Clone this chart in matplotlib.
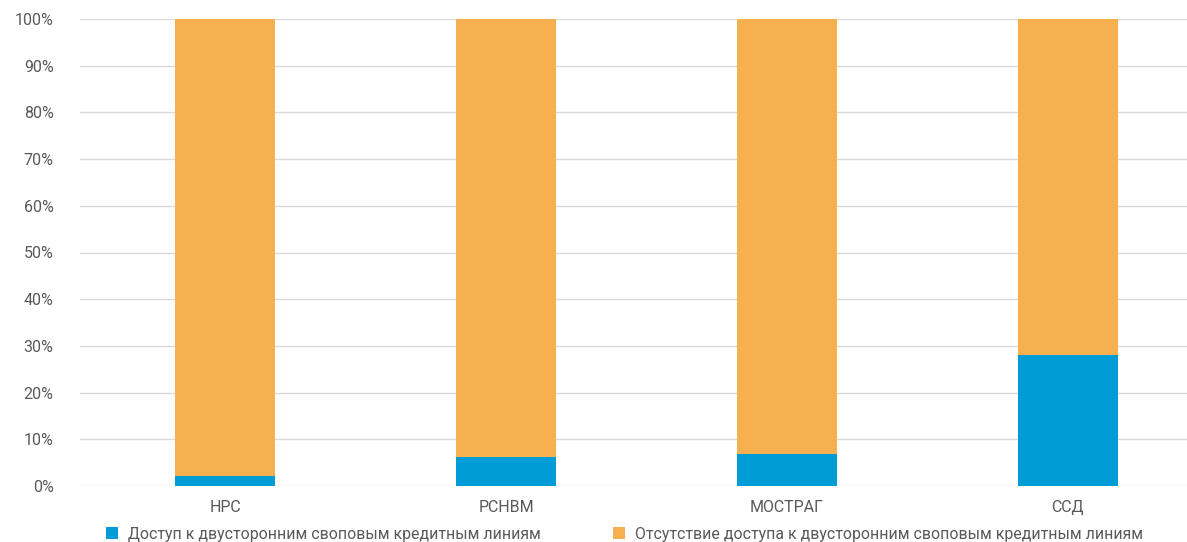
import matplotlib
matplotlib.use("Agg")
import matplotlib.pyplot as plt
import numpy as np

plt.rcParams['font.family'] = ['Roboto', 'DejaVu Sans']

categories = ["НРС", "РСНВМ", "МОСТРАГ", "ССД"]
access = [2.1, 6.2, 6.9, 28.0]
no_access = [100 - v for v in access]
series_names = ["Доступ к двусторонним своповым кредитным линиям",
                "Отсутствие доступа к двусторонним своповым кредитным линиям"]
yticks = [0, 10, 20, 30, 40, 50, 60, 70, 80, 90, 100]
ytick_labels = [f"{t}%" for t in yticks]

blue = "#009CD8"
orange = "#F7B04F"
text_c = "#595959"

fig = plt.figure(figsize=(11.87, 5.42), dpi=100)
ax = fig.add_axes([80/1187, 1-486/542, 1-80/1187, (486-19)/542])

x = np.arange(len(categories))
w = 0.355
ax.bar(x, access, w, color=blue, label=series_names[0], zorder=3)
ax.bar(x, no_access, w, bottom=access, color=orange, label=series_names[1], zorder=3)

ax.set_xlim(-0.516, 3.424)
ax.set_ylim(0, 100)
ax.set_yticks(yticks)
ax.set_yticklabels(ytick_labels)
ax.set_xticks(x)
ax.set_xticklabels(categories)
ax.grid(axis='y', color='#d9d9d9', linewidth=1, zorder=0)
for s in ax.spines.values():
    s.set_visible(False)
ax.tick_params(axis='both', length=0, colors=text_c, labelsize=11.5)
ax.tick_params(axis='y', pad=19)
ax.tick_params(axis='x', pad=10)

leg = fig.legend(loc='center left', bbox_to_anchor=(106/1187, 1-534/542),
                 ncol=2, frameon=False, fontsize=11.4, borderpad=0, borderaxespad=0,
                 handlelength=0.75, handleheight=0.75, handletextpad=0.63,
                 columnspacing=4.6, labelcolor=text_c)

fig.savefig("out.png", dpi=100)
